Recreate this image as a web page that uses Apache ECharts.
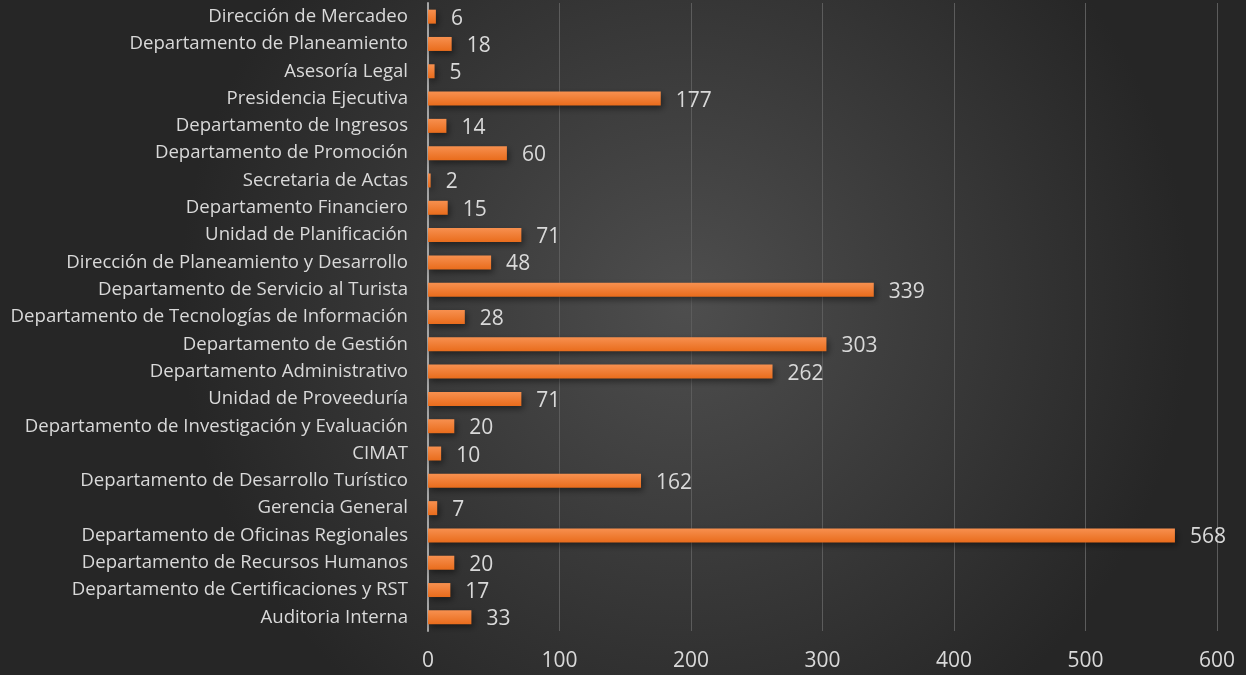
<!DOCTYPE html>
<html>
<head>
<meta charset="utf-8">
<script src="https://cdn.jsdelivr.net/npm/echarts@6/dist/echarts.min.js"></script>
<style>
  html, body { margin: 0; padding: 0; }
  #chart { width: 1246px; height: 675px; }
</style>
</head>
<body>
<div id="chart"></div>
<script>
// listed top to bottom as in the picture
const departments = [
  "Dirección de Mercadeo",
  "Departamento de Planeamiento",
  "Asesoría Legal",
  "Presidencia Ejecutiva",
  "Departamento de Ingresos",
  "Departamento de Promoción",
  "Secretaria de Actas",
  "Departamento Financiero",
  "Unidad de Planificación",
  "Dirección de Planeamiento y Desarrollo",
  "Departamento de Servicio al Turista",
  "Departamento de Tecnologías de Información",
  "Departamento de Gestión",
  "Departamento Administrativo",
  "Unidad de Proveeduría",
  "Departamento de Investigación y Evaluación",
  "CIMAT",
  "Departamento de Desarrollo Turístico",
  "Gerencia General",
  "Departamento de Oficinas Regionales",
  "Departamento de Recursos Humanos",
  "Departamento de Certificaciones y RST",
  "Auditoria Interna"
];
const counts = [6, 18, 5, 177, 14, 60, 2, 15, 71, 48, 339, 28, 303, 262, 71, 20, 10, 162, 7, 568, 20, 17, 33];

const chart = echarts.init(document.getElementById("chart"));
chart.setOption({
  backgroundColor: {
    type: "radial",
    x: 0.55,
    y: 0.45,
    r: 0.75,
    colorStops: [
      { offset: 0, color: "#4e4e4e" },
      { offset: 1, color: "#262626" }
    ]
  },
  textStyle: { fontFamily: "Open Sans" },
  grid: {
    left: 428,
    right: 29,
    top: 3,
    bottom: 44,
    containLabel: false
  },
  xAxis: {
    type: "value",
    min: 0,
    max: 600,
    interval: 100,
    axisLine: { show: false },
    axisTick: { show: false },
    splitLine: { lineStyle: { color: "#5c5c5c", width: 1 } },
    axisLabel: { color: "#d9d9d9", fontSize: 21, margin: 20 }
  },
  yAxis: {
    type: "category",
    data: departments,
    inverse: true,
    axisLine: { show: true, lineStyle: { color: "#a6a6a6", width: 2 } },
    axisTick: { show: false },
    axisLabel: { color: "#d9d9d9", fontSize: 18.6, margin: 20 }
  },
  series: [
    {
      type: "bar",
      data: counts,
      barWidth: 14,
      itemStyle: {
        color: {
          type: "linear",
          x: 0, y: 0, x2: 0, y2: 1,
          colorStops: [
            { offset: 0, color: "#f7904f" },
            { offset: 1, color: "#e96c1c" }
          ]
        },
        shadowColor: "rgba(0,0,0,0.45)",
        shadowBlur: 6,
        shadowOffsetX: 2,
        shadowOffsetY: 3
      },
      label: {
        show: true,
        position: "right",
        distance: 15,
        offset: [0, 2],
        color: "#d9d9d9",
        fontSize: 21
      }
    }
  ]
});
</script>
</body>
</html>
